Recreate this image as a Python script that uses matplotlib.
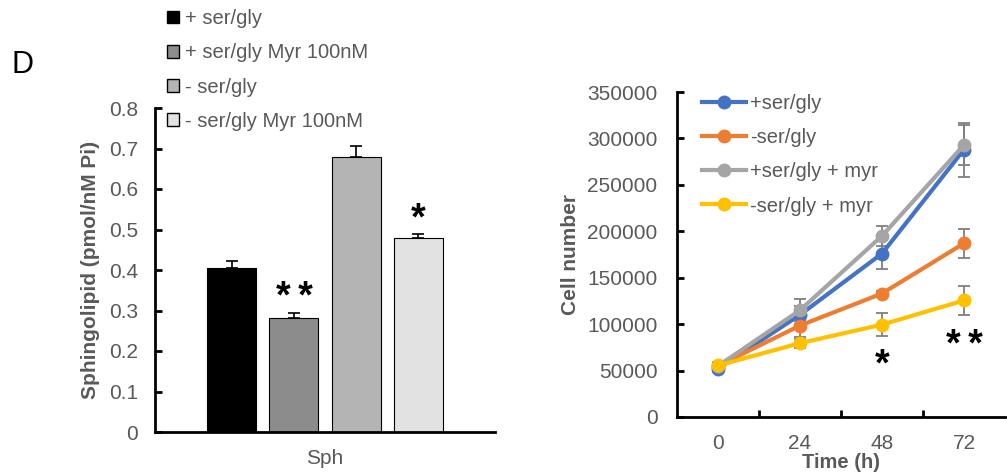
import matplotlib
matplotlib.use("Agg")
import matplotlib.pyplot as plt
from matplotlib.patches import Patch
import numpy as np

plt.rcParams['font.family'] = ['Liberation Sans', 'DejaVu Sans']

# Данные: сфинголипиды (левая панель)
bar_labels = ['+ ser/gly', '+ ser/gly Myr 100nM', '- ser/gly', '- ser/gly Myr 100nM']
bar_values = [0.405, 0.281, 0.680, 0.478]
bar_errors = [0.018, 0.013, 0.025, 0.010]
bar_colors = ['#000000', '#8c8c8c', '#b4b4b4', '#e2e2e2']
bar_stars = ['', '*\u2009*', '', '*']
bar_category = 'Sph'

# Данные: рост клеток (правая панель)
time_labels = ['0', '24', '48', '72']
series_names = ['+ser/gly', '-ser/gly', '+ser/gly + myr', '-ser/gly + myr']
plus_sg = [52000, 110000, 176000, 288000]
minus_sg = [55000, 98500, 133000, 187000]
plus_sg_myr = [55000, 115000, 195000, 293000]
minus_sg_myr = [55500, 79500, 99500, 125500]
plus_sg_err = [4000, 10000, 17000, 29000]
minus_sg_err = [3000, 12000, 3000, 16000]
plus_sg_myr_err = [4000, 12000, 11000, 22000]
minus_sg_myr_err = [3000, 5000, 12500, 16000]
line_colors = ['#4472C4', '#ED7D31', '#A5A5A5', '#FFC000']
star_labels = ['', '', '*', '*\u2009*']
star_y = [0, 0, 44700, 66200]

grey_txt = '#595959'
fs = 15

fig = plt.figure(figsize=(10.07, 4.74), dpi=100)

# ---- левая панель ----
ax1 = fig.add_axes([155/1007, 42/474, 340/1007, 324/474])
x_pos = (np.arange(len(bar_values)) - 1.5)
ax1.bar(x_pos, bar_values, width=0.79, color=bar_colors, edgecolor='black', linewidth=0.8, zorder=2)
ax1.errorbar(x_pos, bar_values, yerr=[np.zeros(len(bar_errors)), bar_errors], fmt='none',
             ecolor='black', elinewidth=1.2, capsize=4, capthick=1.2, zorder=1)
for xp, v, e, s in zip(x_pos, bar_values, bar_errors, bar_stars):
    if s:
        ax1.annotate(s, (xp, v + e), xytext=(0, 3.5), textcoords='offset points',
                     ha='center', va='baseline', fontsize=27, fontweight='bold', color='black')
ax1.set_xlim(-2.74, 2.74)
ax1.set_ylim(0, 0.8)
ax1.set_yticks(np.arange(0, 0.81, 0.1))
ax1.set_yticklabels(['0'] + ['%.1f' % v for v in np.arange(0.1, 0.81, 0.1)])
ax1.set_xticks([0])
ax1.set_xticklabels([bar_category])
ax1.tick_params(axis='x', length=0, pad=12, labelsize=fs, labelcolor=grey_txt)
ax1.tick_params(axis='y', direction='in', length=5, width=2, labelsize=fs, labelcolor=grey_txt, pad=12)
ax1.set_ylabel('Sphingolipid (pmol/nM Pi)', fontsize=15, fontweight='bold', color=grey_txt)
ax1.yaxis.set_label_coords(-0.162, 0.5)
for sp in ['top', 'right']:
    ax1.spines[sp].set_visible(False)
for sp in ['left', 'bottom']:
    ax1.spines[sp].set_linewidth(2)

handles1 = [Patch(facecolor=c, edgecolor='black', linewidth=1) for c in bar_colors]
fig.legend(handles1, bar_labels, loc='upper left', bbox_to_anchor=(167/1007, 1 - 9/474),
           frameon=False, fontsize=14.5, labelcolor=grey_txt, handlelength=0.6, handleheight=0.6,
           handletextpad=0.3, labelspacing=0.76, borderpad=0, borderaxespad=0)

fig.text(23/1007, 1 - 65/474, 'D', fontsize=22, ha='center', va='center', color='black')

# ---- правая панель ----
ax2 = fig.add_axes([677/1007, 57/474, 328/1007, 325/474])
xi = np.arange(len(time_labels))
all_series = [plus_sg, minus_sg, plus_sg_myr, minus_sg_myr]
all_err = [plus_sg_err, minus_sg_err, plus_sg_myr_err, minus_sg_myr_err]
for vals, errs in zip(all_series, all_err):
    ax2.errorbar(xi, vals, yerr=errs, fmt='none', ecolor='#7f7f7f', elinewidth=1.3,
                 capsize=4, capthick=1.3, zorder=1)
for vals, col, name in zip(all_series, line_colors, series_names):
    ax2.plot(xi, vals, color=col, linewidth=3, marker='o', markersize=9, label=name, zorder=2)
for xp, s, yv in zip(xi, star_labels, star_y):
    if s:
        ax2.text(xp, yv, s, ha='center', va='baseline', fontsize=27, fontweight='bold', color='black')
ax2.set_xlim(-0.5, 3.5)
ax2.set_ylim(0, 350000)
ax2.set_yticks(np.arange(0, 350001, 50000))
ax2.set_xticks(xi)
ax2.set_xticklabels(time_labels)
ax2.set_xticks(xi[:-1] + 0.5, minor=True)
ax2.tick_params(axis='x', which='major', length=0, pad=12, labelsize=fs, labelcolor=grey_txt)
ax2.tick_params(axis='x', which='minor', direction='in', length=5, width=2)
ax2.tick_params(axis='y', direction='in', length=5, width=2, labelsize=fs, labelcolor=grey_txt, pad=14)
ax2.set_ylabel('Cell number', fontsize=15, fontweight='bold', color=grey_txt)
ax2.yaxis.set_label_coords(-0.296, 0.5)
ax2.set_xlabel('Time (h)', fontsize=14.5, fontweight='bold', color=grey_txt)
ax2.xaxis.set_label_coords(0.5, -0.11)
for sp in ['top', 'right']:
    ax2.spines[sp].set_visible(False)
for sp in ['left', 'bottom']:
    ax2.spines[sp].set_linewidth(2)

ax2.legend(loc='upper left', bbox_to_anchor=(0.076, 0.995), frameon=False, fontsize=14.5,
           labelcolor=grey_txt, handlelength=2.2, handletextpad=0.2,
           labelspacing=0.76, borderpad=0, borderaxespad=0)

fig.savefig('out.png', dpi=100)
